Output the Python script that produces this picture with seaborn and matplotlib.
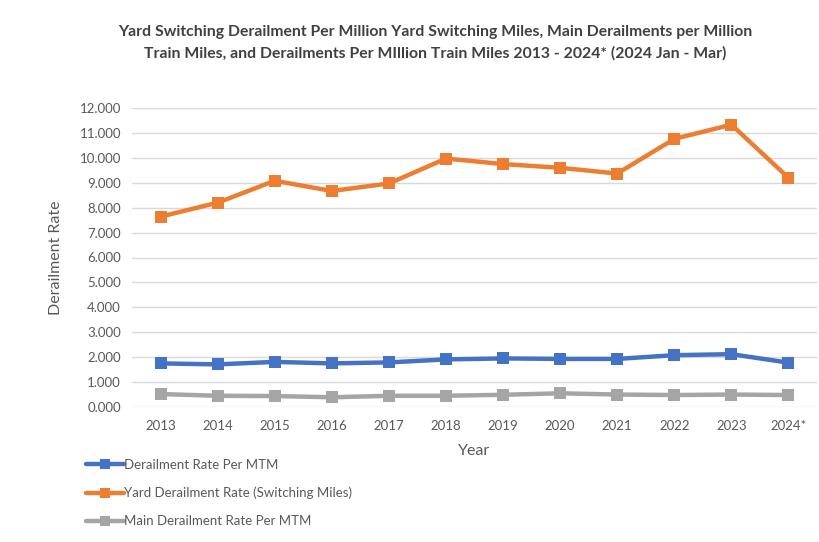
import matplotlib
matplotlib.use("Agg")
import matplotlib.pyplot as plt
import seaborn as sns
import pandas as pd
from matplotlib.lines import Line2D

years = ["2013", "2014", "2015", "2016", "2017", "2018", "2019", "2020", "2021", "2022", "2023", "2024*"]
derail_mtm = [1.75, 1.71, 1.81, 1.75, 1.79, 1.91, 1.95, 1.93, 1.93, 2.08, 2.12, 1.78]
yard_rate = [7.64, 8.20, 9.08, 8.67, 8.97, 9.97, 9.75, 9.60, 9.37, 10.76, 11.33, 9.20]
main_mtm = [0.52, 0.45, 0.44, 0.39, 0.45, 0.45, 0.49, 0.55, 0.50, 0.48, 0.50, 0.48]

series_names = ["Derailment Rate Per MTM", "Yard Derailment Rate (Switching Miles)", "Main Derailment Rate Per MTM"]
colors = ["#4472C4", "#ED7D31", "#A5A5A5"]
yticks = [0, 1, 2, 3, 4, 5, 6, 7, 8, 9, 10, 11, 12]

df = pd.DataFrame({"Year": years, series_names[0]: derail_mtm,
                   series_names[1]: yard_rate, series_names[2]: main_mtm})
long = df.melt(id_vars="Year", var_name="Series", value_name="Rate")

sns.set_theme(style="white")
plt.rcParams["font.family"] = ["Lato", "DejaVu Sans"]

fig = plt.figure(figsize=(8.2, 5.42), dpi=100)
ax = fig.add_axes([132/820, 1-407/542, (817-132)/820, (407-108)/542])

sns.lineplot(data=long, x="Year", y="Rate", hue="Series", hue_order=series_names,
             palette=colors, marker="s", markersize=8, markeredgewidth=0,
             linewidth=3.2, dashes=False, ax=ax, legend=False, sort=False, clip_on=False)

ax.set_xlim(-0.5, len(years) - 0.5)
ax.set_ylim(0, 12)
ax.set_yticks(yticks)
ax.set_yticklabels([f"{v:.3f}" for v in yticks])
ax.yaxis.grid(True, color="#D9D9D9", linewidth=1)
ax.xaxis.grid(False)
for s in ax.spines.values():
    s.set_visible(False)
ax.tick_params(axis="both", length=0, labelsize=9.5, colors="#595959")
ax.tick_params(axis="y", pad=8)
ax.tick_params(axis="x", pad=9)
ax.set_axisbelow(True)

ax.set_xlabel("Year", fontsize=11.5, color="#595959", labelpad=9)
ax.set_ylabel("Derailment Rate", fontsize=11.5, color="#595959", labelpad=12)

fig.text(435/820, 1-25/542,
         "Yard Switching Derailment Per Million Yard Switching Miles, Main Derailments per Million\n"
         "Train Miles, and Derailments Per MIllion Train Miles 2013 - 2024* (2024 Jan - Mar)",
         ha="center", va="top", fontsize=11.3, fontweight="bold", color="#404040",
         linespacing=1.6)

handles = [Line2D([0], [0], color=c, lw=3.2, marker="s", markersize=6.5, markeredgewidth=0)
           for c in colors]
fig.legend(handles, series_names, loc="upper left", bbox_to_anchor=(86/820, 1-459/542),
           frameon=False, fontsize=9.5, labelcolor="#595959", handlelength=2.9,
           handletextpad=0.0, labelspacing=1.2, borderaxespad=0, borderpad=0)

fig.savefig("out.png", dpi=100)
